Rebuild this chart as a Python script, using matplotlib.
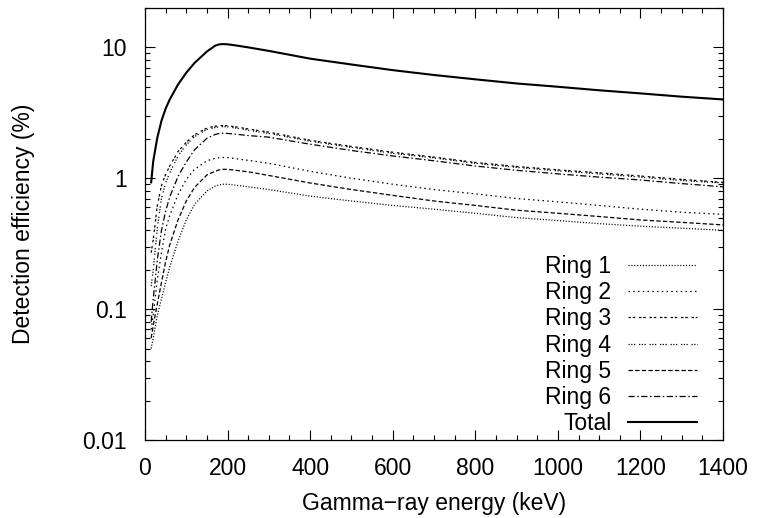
import matplotlib
matplotlib.use("Agg")
import matplotlib.pyplot as plt
from matplotlib.ticker import MultipleLocator, LogLocator, FixedLocator, NullFormatter

plt.rcParams['font.family'] = ['Liberation Sans', 'DejaVu Sans']

energy = [15, 20, 30, 40, 50, 60, 80, 100, 120, 150, 170, 180, 190, 200, 220, 250, 300,
          400, 500, 600, 700, 800, 900, 1000, 1100, 1200, 1300, 1400]

ring1 = [0.05, 0.06, 0.09, 0.12, 0.16, 0.21, 0.33, 0.48, 0.63, 0.80, 0.87, 0.89, 0.90, 0.90, 0.885, 0.86, 0.82,
         0.73, 0.67, 0.62, 0.58, 0.54, 0.50, 0.475, 0.45, 0.43, 0.415, 0.40]
ring2 = [0.07, 0.09, 0.17, 0.27, 0.41, 0.52, 0.75, 0.98, 1.17, 1.36, 1.42, 1.435, 1.44, 1.44, 1.41, 1.37, 1.30,
         1.13, 1.00, 0.90, 0.82, 0.76, 0.70, 0.66, 0.62, 0.58, 0.55, 0.53]
ring3 = [0.27, 0.34, 0.62, 0.88, 1.07, 1.24, 1.60, 1.88, 2.15, 2.42, 2.50, 2.52, 2.53, 2.52, 2.47, 2.38, 2.25,
         1.95, 1.75, 1.58, 1.45, 1.32, 1.23, 1.16, 1.10, 1.04, 0.98, 0.93]
ring4 = [0.15, 0.20, 0.42, 0.70, 0.92, 1.10, 1.48, 1.80, 2.08, 2.36, 2.44, 2.47, 2.48, 2.47, 2.42, 2.33, 2.20,
         1.92, 1.72, 1.55, 1.43, 1.30, 1.21, 1.14, 1.08, 1.02, 0.96, 0.92]
ring5 = [0.06, 0.075, 0.11, 0.16, 0.23, 0.31, 0.48, 0.67, 0.85, 1.06, 1.13, 1.16, 1.17, 1.17, 1.15, 1.12, 1.05,
         0.92, 0.82, 0.74, 0.67, 0.62, 0.57, 0.54, 0.51, 0.48, 0.46, 0.44]
ring6 = [0.08, 0.12, 0.24, 0.40, 0.56, 0.72, 1.03, 1.33, 1.65, 2.02, 2.16, 2.20, 2.21, 2.20, 2.17, 2.12, 2.06,
         1.82, 1.63, 1.48, 1.36, 1.24, 1.15, 1.08, 1.02, 0.97, 0.91, 0.86]
total = [0.93, 1.35, 2.05, 2.75, 3.40, 4.00, 5.20, 6.40, 7.60, 9.30, 10.3, 10.55, 10.6, 10.55, 10.35, 10.0, 9.4,
         8.2, 7.4, 6.7, 6.15, 5.7, 5.3, 5.0, 4.7, 4.45, 4.2, 4.0]

labels = ["Ring 1", "Ring 2", "Ring 3", "Ring 4", "Ring 5", "Ring 6", "Total"]
series = [ring1, ring2, ring3, ring4, ring5, ring6, total]
styles = [(0, (0.9, 1.4)),
          (0, (1.2, 2.6)),
          (0, (2.0, 1.4, 2.0, 3.0)),
          (0, (1.0, 1.2, 1.0, 1.2, 1.0, 3.0)),
          (0, (3.5, 1.8)),
          (0, (5.0, 2.0, 1.2, 2.0)),
          '-']
widths = [0.9, 0.9, 0.9, 0.9, 0.9, 0.9, 1.5]

FS = 16.5

fig = plt.figure(figsize=(7.59, 5.18), dpi=100)
ax = fig.add_axes([0.191, 0.1506, 0.7616, 0.834])

for lab, vals, ls, lw in zip(labels, series, styles, widths):
    ax.plot(energy, vals, color='black', linestyle=ls, linewidth=lw, label=lab)

ax.set_yscale('log')
ax.set_xlim(0, 1400)
ax.set_ylim(0.01, 20)

ax.xaxis.set_major_locator(MultipleLocator(200))
ax.xaxis.set_minor_locator(MultipleLocator(50))
ax.yaxis.set_major_locator(FixedLocator([0.01, 0.1, 1, 10]))
ax.yaxis.set_minor_locator(LogLocator(base=10, subs=range(2, 10)))
ax.yaxis.set_minor_formatter(NullFormatter())
ax.set_yticklabels(["0.01", "0.1", "1", "10"])

ax.tick_params(which='both', direction='in', top=True, right=True, labelsize=FS, colors='black')
ax.tick_params(which='major', length=7, width=0.8)
ax.tick_params(axis='y', which='major', pad=13)
ax.tick_params(axis='x', which='major', pad=12)
ax.tick_params(which='minor', length=3.5, width=0.8)
for s in ax.spines.values():
    s.set_linewidth(0.9)

ax.set_xlabel("Gamma\u2212ray energy (keV)", fontsize=FS, labelpad=9)
ax.set_ylabel("Detection efficiency (%)", fontsize=FS, labelpad=34)

leg = ax.legend(loc='lower right', frameon=False, markerfirst=False, fontsize=FS,
                handlelength=3.0, handletextpad=0.74, labelspacing=0.14,
                borderpad=0.0, borderaxespad=0.0, bbox_to_anchor=(0.955, 0.011))

fig.savefig("out.png", dpi=100)
